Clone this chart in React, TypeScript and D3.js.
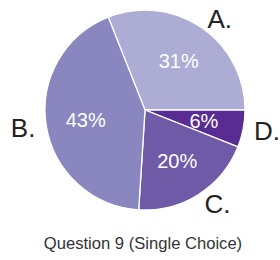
import React, { useRef, useEffect } from "react";
import * as d3 from "d3";

const categories = ["A.", "D.", "C.", "B."];
const values = [31, 6, 20, 43];
const colors = ["#acacd5", "#582c92", "#6f5aa8", "#8a86bf"];
const title = "Question 9 (Single Choice)";

function App() {
    const svgRef = useRef<SVGSVGElement>(null);
    useEffect(() => {
        let svg = d3.select(svgRef.current);
        svg.selectChildren().remove();
        const w = 280;
        const h = 260;
        const r = 100;
        const font = "'Liberation Sans', Arial, sans-serif";
        svg.attr("width", w).attr("height", h);
        const g = svg.append("g").attr("transform", "translate(145,110)");

        // first slice ends at 3 o'clock
        const total = d3.sum(values);
        const offset = Math.PI / 2 - (2 * Math.PI * values[0]) / total;
        const pie = d3.pie<number>().sort(null).startAngle(offset).endAngle(offset + 2 * Math.PI);
        const arcs = pie(values);
        const arc = d3.arc<d3.PieArcDatum<number>>().innerRadius(0).outerRadius(r);
        const inner = d3.arc<d3.PieArcDatum<number>>().innerRadius(60).outerRadius(60);
        const outer = d3.arc<d3.PieArcDatum<number>>().innerRadius(111).outerRadius(111);

        g.selectAll("path.slice")
            .data(arcs)
            .join("path")
            .attr("class", "slice")
            .attr("d", arc)
            .attr("fill", (d, i) => colors[i])
            .attr("stroke", "#fff")
            .attr("stroke-width", 1.3);

        g.selectAll("text.pct")
            .data(arcs)
            .join("text")
            .attr("class", "pct")
            .attr("transform", (d) => "translate(" + inner.centroid(d) + ")")
            .attr("text-anchor", "middle")
            .attr("dy", "0.36em")
            .attr("fill", "#fff")
            .style("font-family", font)
            .style("font-size", "20px")
            .text((d) => Math.round((d.data / total) * 100) + "%");

        g.selectAll("text.cat")
            .data(arcs)
            .join("text")
            .attr("class", "cat")
            .attr("transform", (d) => "translate(" + outer.centroid(d) + ")")
            .attr("text-anchor", (d) => (outer.centroid(d)[0] >= 0 ? "start" : "end"))
            .attr("dy", "0.36em")
            .attr("fill", "#222")
            .style("font-family", font)
            .style("font-size", "26px")
            .text((d, i) => categories[i]);

        svg.append("text")
            .attr("x", 143)
            .attr("y", 249)
            .attr("text-anchor", "middle")
            .attr("fill", "#333")
            .style("font-family", font)
            .style("font-size", "16.6px")
            .text(title);
    }, []);
    return (
        <React.Fragment>
            <svg ref={svgRef} style={{ position: "absolute", left: 0, top: 0, background: "#fff" }}></svg>
        </React.Fragment>
    );
}

export default App;
